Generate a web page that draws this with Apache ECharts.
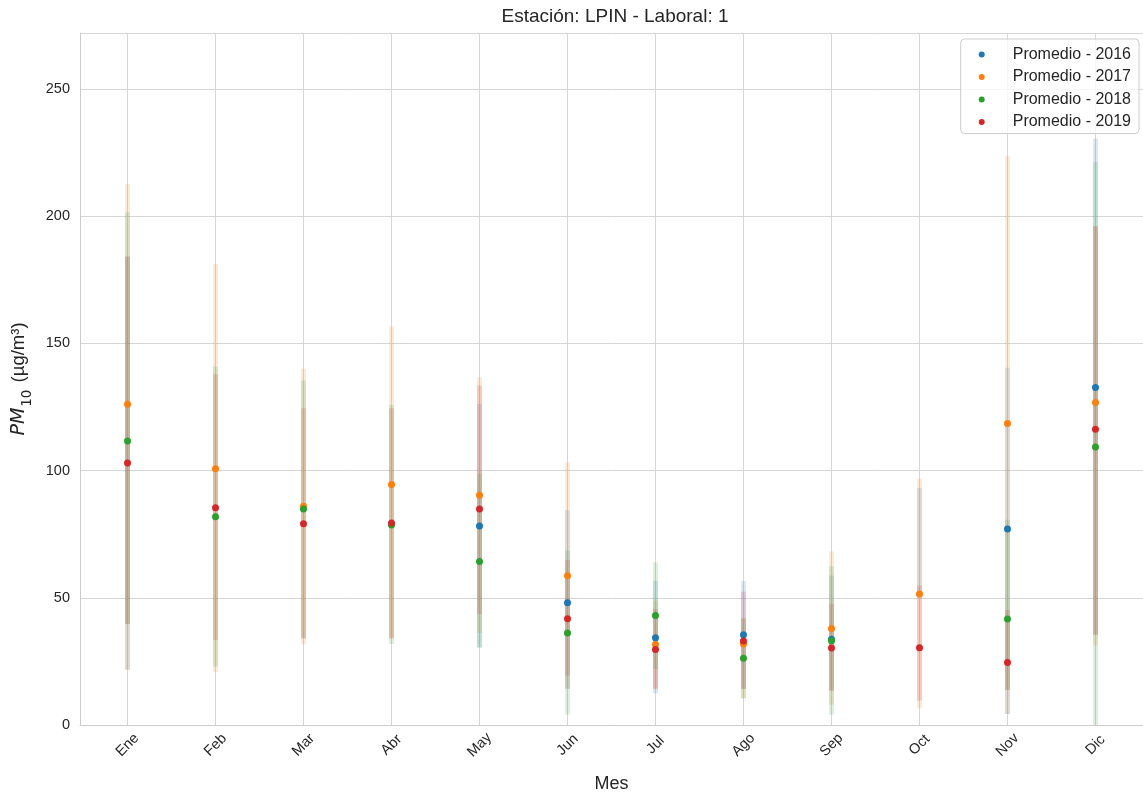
<!DOCTYPE html>
<html>
<head>
<meta charset="utf-8">
<script src="https://cdn.jsdelivr.net/npm/echarts@6/dist/echarts.min.js"></script>
<style>
  html, body { margin: 0; padding: 0; background: #fff; }
  #chart { width: 1143px; height: 799px; }
</style>
</head>
<body>
<div id="chart"></div>
<script>
// Months on the x axis
const meses = ['Ene', 'Feb', 'Mar', 'Abr', 'May', 'Jun', 'Jul', 'Ago', 'Sep', 'Oct', 'Nov', 'Dic'];
const years = ['2016', '2017', '2018', '2019'];
const colors = ['#1f77b4', '#ff7f0e', '#2ca02c', '#d62728'];

// Monthly mean PM10 per year (null = no data)
const prom2016 = [null, null, null, null, 78.2, 48.1, 34.3, 35.5, 33.7, null, 77.0, 132.7];
const prom2017 = [126.1, 100.7, 86.0, 94.5, 90.3, 58.7, 31.6, 31.8, 37.9, 51.5, 118.5, 126.8];
const prom2018 = [111.6, 81.9, 84.9, 78.6, 64.3, 36.2, 43.0, 26.2, 33.1, null, 41.7, 109.3];
const prom2019 = [103.0, 85.4, 79.1, 79.4, 84.9, 41.8, 29.7, 33.0, 30.3, 30.4, 24.6, 116.2];

// Lower / upper limits of the monthly range per year
const min2016 = [21.7, null, null, null, 30.5, 14.2, 12.4, 14.2, 13.5, 52.0, 4.3, 35.5];
const max2016 = [184.0, null, null, null, 126.2, 84.5, 56.6, 56.6, 58.7, 93.2, 140.4, 230.5];
const min2017 = [21.7, 20.7, 31.6, 34.1, 36.2, 14.2, 14.2, 10.5, 8.0, 6.6, 4.3, 31.2];
const max2017 = [212.7, 181.2, 140.0, 156.7, 136.7, 103.2, 48.9, 41.9, 68.2, 96.8, 223.7, 196.0];
const min2018 = [39.7, 23.0, 34.1, 31.8, 30.5, 4.1, 22.0, 10.5, 4.1, null, 13.8, 0.0];
const max2018 = [201.5, 140.9, 135.4, 125.8, 98.7, 68.6, 63.9, 41.9, 62.4, null, 80.7, 221.3];
const min2019 = [39.7, 33.4, 34.1, 34.1, 43.6, 19.4, 14.2, 14.2, 13.5, 9.6, 13.8, 35.5];
const max2019 = [184.2, 138.0, 124.5, 124.5, 133.4, 64.9, 45.6, 52.4, 47.6, 54.8, 45.2, 196.0];

// Y axis ticks
const yTicks = [0, 50, 100, 150, 200, 250];

const proms = [prom2016, prom2017, prom2018, prom2019];
const mins = [min2016, min2017, min2018, min2019];
const maxs = [max2016, max2017, max2018, max2019];

const FONT = '"Liberation Sans", Arial, sans-serif';
const MATH = '"DejaVu Sans", sans-serif';
const TXT = '#262626';
const BAR_ALPHA = 0.16;

function hexA(hex, a) {
  const n = parseInt(hex.slice(1), 16);
  return 'rgba(' + (n >> 16) + ',' + ((n >> 8) & 255) + ',' + (n & 255) + ',' + a + ')';
}

const series = [];
// Translucent vertical range bars
years.forEach((y, k) => {
  const data = [];
  meses.forEach((m, i) => {
    if (mins[k][i] != null && maxs[k][i] != null) data.push([i, mins[k][i], maxs[k][i]]);
  });
  series.push({
    type: 'custom',
    name: 'Rango - ' + y,
    z: 2,
    silent: true,
    encode: { x: 0, y: [1, 2] },
    data: data,
    renderItem: function (params, api) {
      const x = api.value(0);
      const lo = api.coord([x, api.value(1)]);
      const hi = api.coord([x, api.value(2)]);
      return {
        type: 'rect',
        shape: { x: lo[0] - 2.5, y: hi[1], width: 5, height: lo[1] - hi[1] },
        style: { fill: hexA(colors[k], BAR_ALPHA) }
      };
    }
  });
});
// Mean points
years.forEach((y, k) => {
  const data = [];
  meses.forEach((m, i) => { if (proms[k][i] != null) data.push([i, proms[k][i]]); });
  series.push({
    type: 'scatter',
    name: 'Promedio - ' + y,
    z: 5,
    symbol: 'circle',
    symbolSize: 7,
    itemStyle: { color: colors[k], opacity: 1 },
    data: data
  });
});

const chart = echarts.init(document.getElementById('chart'), null, { renderer: 'canvas' });
chart.setOption({
  animation: false,
  backgroundColor: '#ffffff',
  textStyle: { fontFamily: FONT },
  title: {
    text: 'Estación: LPIN - Laboral: 1',
    left: 610,
    textAlign: 'center',
    top: 2,
    textStyle: { fontFamily: FONT, fontSize: 19, fontWeight: 'normal', color: TXT }
  },
  grid: { left: 80, right: -2, top: 33, bottom: 74, containLabel: false },
  legend: {
    data: years.map(y => 'Promedio - ' + y),
    orient: 'vertical',
    right: 4,
    top: 39,
    icon: 'circle',
    itemWidth: 6,
    itemHeight: 6,
    itemGap: 5.5,
    padding: [7, 8, 3, 18],
    backgroundColor: 'rgba(255,255,255,0.8)',
    borderColor: '#cccccc',
    borderWidth: 1,
    borderRadius: 4,
    textStyle: { fontFamily: FONT, fontSize: 16, color: TXT, lineHeight: 17, padding: [0, 0, 0, 23] }
  },
  xAxis: {
    type: 'value',
    min: -0.54,
    max: 11.54,
    name: 'Mes',
    nameLocation: 'middle',
    nameGap: 50,
    nameTextStyle: { fontFamily: FONT, fontSize: 18, color: TXT },
    axisLine: { show: true, onZero: false, lineStyle: { color: '#cccccc', width: 1 } },
    axisTick: { show: false, customValues: meses.map((m, i) => i) },
    splitLine: { show: true, lineStyle: { color: '#d6d6d6', width: 1 } },
    axisLabel: {
      customValues: meses.map((m, i) => i),
      formatter: v => meses[Math.round(v)] || '',
      rotate: 45,
      align: 'center',
      verticalAlign: 'middle',
      margin: 20,
      fontFamily: FONT,
      fontSize: 14.5,
      color: TXT
    }
  },
  yAxis: {
    type: 'value',
    min: 0,
    max: 272,
    interval: 50,
    name: '{i|PM}{s|10}{n| (µg/m³)}',
    nameLocation: 'middle',
    nameGap: 41,
    nameRotate: 90,
    nameTextStyle: {
      fontFamily: FONT,
      color: TXT,
      rich: {
        i: { fontFamily: MATH, fontSize: 19, fontStyle: 'italic', color: TXT, lineHeight: 24, verticalAlign: 'middle', padding: [0, 1, 0, 0] },
        s: { fontFamily: MATH, fontSize: 13.5, color: TXT, lineHeight: 24, verticalAlign: 'bottom', padding: [0, 2, -4, 0] },
        n: { fontFamily: FONT, fontSize: 18.5, color: TXT, lineHeight: 24, verticalAlign: 'middle' }
      }
    },
    axisLine: { show: true, onZero: false, lineStyle: { color: '#cccccc', width: 1 } },
    axisTick: { show: false },
    splitLine: { show: true, lineStyle: { color: '#d6d6d6', width: 1 } },
    axisLabel: {
      customValues: yTicks,
      margin: 10,
      fontFamily: FONT,
      fontSize: 14.5,
      color: TXT
    }
  },
  series: series
});
</script>
</body>
</html>
